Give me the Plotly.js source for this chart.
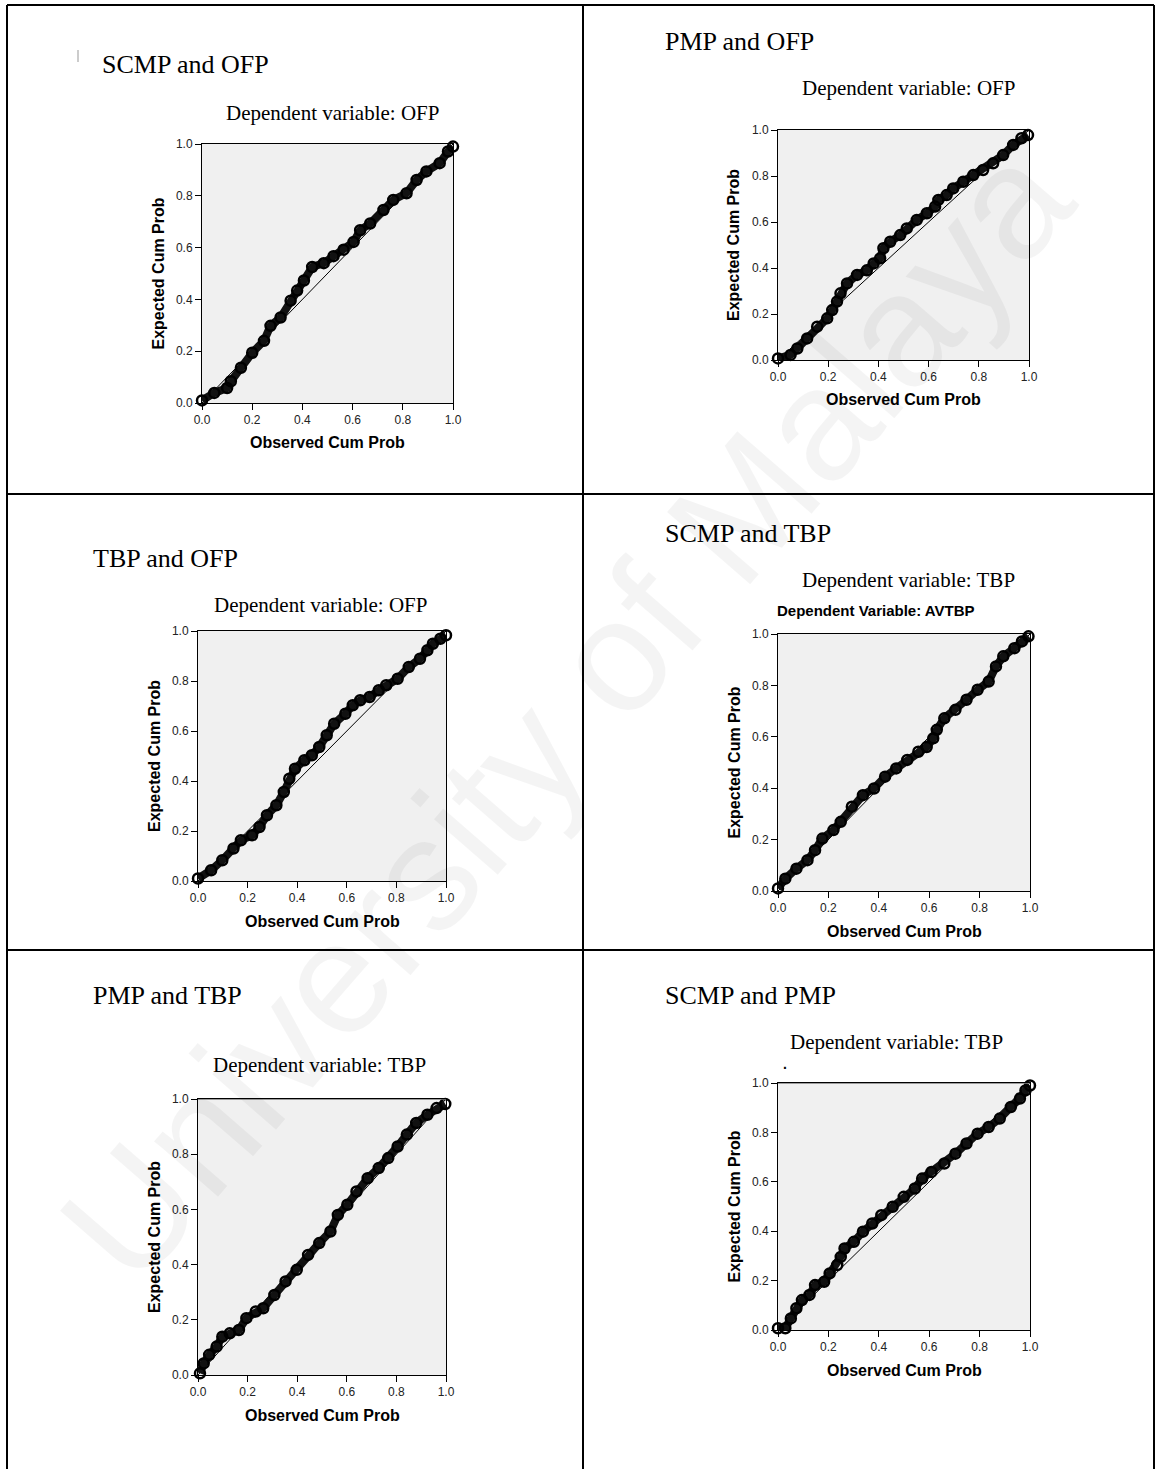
<!DOCTYPE html>
<html><head><meta charset="utf-8">
<script src="https://cdn.plot.ly/plotly-3.0.1.min.js"></script>
<style>html,body{margin:0;padding:0;background:#fff;overflow:hidden}#chart{width:1157px;height:1469px}</style>
</head><body><div id="chart"></div><script>
// ---------- data ----------
const panelTitles = ["SCMP and OFP", "PMP and OFP", "TBP and OFP", "SCMP and TBP", "PMP and TBP", "SCMP and PMP"];
const dependentLabels = ["Dependent variable: OFP", "Dependent variable: OFP", "Dependent variable: OFP",
                         "Dependent variable: TBP", "Dependent variable: TBP", "Dependent variable: TBP"];
const tickValues = [0, 0.2, 0.4, 0.6, 0.8, 1.0];
const tickLabels = ["0.0", "0.2", "0.4", "0.6", "0.8", "1.0"];
const xAxisTitle = "Observed Cum Prob";
const yAxisTitle = "Expected Cum Prob";
const refLineX = [0, 1];
const refLineY = [0, 1];
const extraLabel = "Dependent Variable: AVTBP";
const watermarkText = "University of Malaya";

const scmpOfpObs = [0, 0.049, 0.10, 0.115, 0.155, 0.20, 0.247, 0.273, 0.313, 0.353, 0.379, 0.406, 0.439, 0.485, 0.524, 0.564, 0.604, 0.63, 0.67, 0.723, 0.762, 0.815, 0.855, 0.894, 0.947, 0.98, 1.0];
const scmpOfpExp = [0.01, 0.039, 0.058, 0.084, 0.136, 0.194, 0.24, 0.298, 0.33, 0.395, 0.434, 0.473, 0.525, 0.54, 0.567, 0.592, 0.622, 0.667, 0.693, 0.745, 0.784, 0.81, 0.861, 0.894, 0.926, 0.971, 0.99];

const pmpOfpObs = [0, 0.05, 0.077, 0.116, 0.156, 0.196, 0.216, 0.235, 0.249, 0.275, 0.315, 0.354, 0.381, 0.407, 0.42, 0.447, 0.487, 0.513, 0.553, 0.593, 0.626, 0.639, 0.672, 0.698, 0.738, 0.778, 0.817, 0.857, 0.897, 0.937, 0.97, 0.996];
const pmpOfpExp = [0.007, 0.022, 0.05, 0.094, 0.145, 0.181, 0.217, 0.254, 0.29, 0.333, 0.37, 0.39, 0.42, 0.442, 0.486, 0.514, 0.543, 0.572, 0.609, 0.638, 0.667, 0.696, 0.717, 0.746, 0.775, 0.804, 0.826, 0.855, 0.891, 0.935, 0.964, 0.978];

const tbpOfpObs = [0, 0.053, 0.098, 0.143, 0.173, 0.218, 0.248, 0.278, 0.316, 0.346, 0.368, 0.391, 0.429, 0.459, 0.489, 0.519, 0.549, 0.594, 0.624, 0.654, 0.692, 0.729, 0.759, 0.805, 0.85, 0.895, 0.925, 0.947, 0.977, 1.0];
const tbpOfpExp = [0.01, 0.043, 0.083, 0.13, 0.163, 0.183, 0.216, 0.263, 0.303, 0.356, 0.409, 0.449, 0.483, 0.503, 0.536, 0.583, 0.629, 0.669, 0.703, 0.723, 0.736, 0.763, 0.783, 0.809, 0.856, 0.889, 0.923, 0.949, 0.969, 0.983];

const scmpTbpObs = [0, 0.029, 0.073, 0.117, 0.147, 0.176, 0.22, 0.249, 0.293, 0.337, 0.381, 0.425, 0.469, 0.513, 0.557, 0.59, 0.616, 0.63, 0.66, 0.704, 0.748, 0.792, 0.836, 0.865, 0.894, 0.938, 0.968, 0.994];
const scmpTbpExp = [0.01, 0.048, 0.087, 0.12, 0.159, 0.204, 0.237, 0.269, 0.328, 0.373, 0.399, 0.445, 0.477, 0.51, 0.542, 0.56, 0.594, 0.627, 0.672, 0.705, 0.744, 0.783, 0.815, 0.874, 0.913, 0.945, 0.971, 0.991];

const pmpTbpObs = [0.008, 0.023, 0.045, 0.075, 0.098, 0.128, 0.165, 0.195, 0.233, 0.263, 0.308, 0.353, 0.398, 0.444, 0.489, 0.534, 0.564, 0.602, 0.639, 0.684, 0.729, 0.767, 0.805, 0.842, 0.88, 0.925, 0.962, 0.997];
const pmpTbpExp = [0.006, 0.042, 0.073, 0.103, 0.139, 0.151, 0.163, 0.206, 0.23, 0.242, 0.29, 0.339, 0.381, 0.435, 0.478, 0.52, 0.58, 0.617, 0.665, 0.713, 0.75, 0.786, 0.828, 0.871, 0.913, 0.943, 0.967, 0.982];

const scmpPmpObs = [0, 0.029, 0.051, 0.073, 0.095, 0.125, 0.147, 0.183, 0.205, 0.235, 0.249, 0.264, 0.301, 0.337, 0.374, 0.41, 0.455, 0.499, 0.543, 0.572, 0.609, 0.66, 0.704, 0.748, 0.792, 0.836, 0.88, 0.924, 0.96, 0.982, 1.0];
const scmpPmpExp = [0.007, 0.007, 0.047, 0.088, 0.121, 0.142, 0.182, 0.195, 0.229, 0.263, 0.296, 0.33, 0.357, 0.398, 0.431, 0.465, 0.499, 0.539, 0.573, 0.613, 0.64, 0.674, 0.714, 0.755, 0.795, 0.822, 0.856, 0.903, 0.937, 0.97, 0.99];

const panelObs = [scmpOfpObs, pmpOfpObs, tbpOfpObs, scmpTbpObs, pmpTbpObs, scmpPmpObs];
const panelExp = [scmpOfpExp, pmpOfpExp, tbpOfpExp, scmpTbpExp, pmpTbpExp, scmpPmpExp];

// ---------- layout geometry (pixels) ----------
const W = 1157, H = 1469;
const px = v => v / W;
const py = v => 1 - v / H;
const boxes = [
  {l: 202, r: 453, t: 144, b: 403, title: [100, 65], sub: [332, 113]},
  {l: 778, r: 1029, t: 130, b: 360, title: [663, 42], sub: [908, 88]},
  {l: 198, r: 446, t: 631, b: 881, title: [91, 558], sub: [320, 605]},
  {l: 778, r: 1030, t: 634, b: 891, title: [663, 533], sub: [908, 580]},
  {l: 198, r: 446, t: 1099, b: 1375, title: [91, 995], sub: [319, 1065]},
  {l: 778, r: 1030, t: 1083, b: 1330, title: [663, 995], sub: [896, 1042]}
];

const sans = "Liberation Sans, Arial, Helvetica, sans-serif";
const serif = "Liberation Serif, Times New Roman, serif";

const traces = [];
const layout = {
  width: W, height: H,
  margin: {l: 0, r: 0, t: 0, b: 0, pad: 0},
  paper_bgcolor: "#ffffff",
  plot_bgcolor: "#f0f0f0",
  showlegend: false,
  annotations: [],
  shapes: []
};

// faint watermark (drawn first so other text sits over it)
layout.annotations.push({
  xref: "paper", yref: "paper", x: px(565), y: py(712), xanchor: "center", yanchor: "middle",
  text: watermarkText, showarrow: false, textangle: -49,
  font: {family: sans, size: 160, color: "rgba(0,0,0,0.045)"}
});

boxes.forEach((b, i) => {
  const n = i === 0 ? "" : String(i + 1);
  const xa = "x" + n, ya = "y" + n;
  const axisCommon = {
    range: [0, 1], tickvals: tickValues, ticktext: tickLabels,
    ticks: "outside", ticklen: 6, tickwidth: 1, tickcolor: "#000",
    showline: true, linecolor: "#000", linewidth: 1, mirror: true,
    showgrid: false, zeroline: false, fixedrange: true,
    tickfont: {family: sans, size: 12, color: "#222"}
  };
  layout["xaxis" + n] = Object.assign({}, axisCommon, {domain: [px(b.l), px(b.r)], anchor: ya});
  layout["yaxis" + n] = Object.assign({}, axisCommon, {domain: [py(b.b), py(b.t)], anchor: xa});

  traces.push({
    type: "scatter", mode: "lines", x: refLineX, y: refLineY, xaxis: xa, yaxis: ya,
    line: {color: "#000", width: 1}, hoverinfo: "skip"
  });
  traces.push({
    type: "scatter", mode: "lines+markers", x: panelObs[i], y: panelExp[i], xaxis: xa, yaxis: ya,
    cliponaxis: false,
    line: {color: "#111", width: 8},
    marker: {symbol: "circle-open", size: 10, color: "#000", line: {width: 2.5, color: "#000"}}
  });

  layout.annotations.push({
    xref: "paper", yref: "paper", x: px(b.title[0]), y: py(b.title[1]), xanchor: "left", yanchor: "middle",
    text: panelTitles[i], showarrow: false, font: {family: serif, size: 26, color: "#000"}
  });
  layout.annotations.push({
    xref: "paper", yref: "paper", x: px(b.sub[0]), y: py(b.sub[1]), xanchor: "center", yanchor: "middle",
    text: dependentLabels[i], showarrow: false, font: {family: serif, size: 21, color: "#000"}
  });
  layout.annotations.push({
    xref: "paper", yref: "paper", x: px((b.l + b.r) / 2), y: py(b.b + 40), xanchor: "center", yanchor: "middle",
    text: "<b>" + xAxisTitle + "</b>", showarrow: false, font: {family: sans, size: 16, color: "#000"}
  });
  layout.annotations.push({
    xref: "paper", yref: "paper", x: px(b.l - 44), y: py((b.t + b.b) / 2), xanchor: "center", yanchor: "middle",
    text: "<b>" + yAxisTitle + "</b>", showarrow: false, textangle: -90, font: {family: sans, size: 16, color: "#000"}
  });
});

// partially visible SPSS label in the 4th panel and the stray dot in the 6th
layout.annotations.push({
  xref: "paper", yref: "paper", x: px(876), y: py(610), xanchor: "center", yanchor: "middle",
  text: "<b>" + extraLabel + "</b>", showarrow: false, font: {family: sans, size: 15, color: "#000"}
});
layout.annotations.push({
  xref: "paper", yref: "paper", x: px(785), y: py(1064), xanchor: "center", yanchor: "middle",
  text: "<b>.</b>", showarrow: false, font: {family: sans, size: 14, color: "#000"}
});

// table borders
const border = {color: "#000", width: 2};
const line = (x0, y0, x1, y1, l) => ({type: "line", xref: "paper", yref: "paper",
  x0: px(x0), y0: py(y0), x1: px(x1), y1: py(y1), line: l || border, layer: "above"});
layout.shapes.push(line(7, 5, 1154, 5));
layout.shapes.push(line(7, 5, 7, 1469));
layout.shapes.push(line(1154, 5, 1154, 1469));
layout.shapes.push(line(583, 5, 583, 1469));
layout.shapes.push(line(7, 494, 1154, 494));
layout.shapes.push(line(7, 950, 1154, 950));
// small cursor-like mark near the first title
layout.shapes.push(line(78, 50, 78, 62, {color: "#999", width: 1}));
// grey top frame lines in the bottom row
["5", "6"].forEach(n => layout.shapes.push({type: "line", xref: "x" + n, yref: "y" + n,
  x0: 0, x1: 1, y0: 1, y1: 1, line: {color: "#808080", width: 1.5}, layer: "above"}));

Plotly.newPlot("chart", traces, layout, {staticPlot: true});
</script></body></html>
